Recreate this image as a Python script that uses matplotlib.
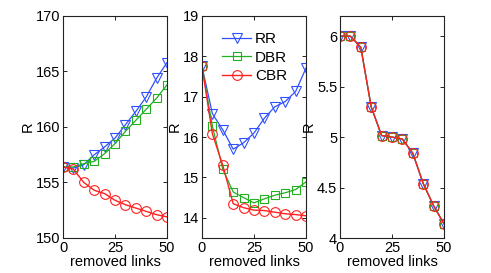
import matplotlib
matplotlib.use("Agg")
import matplotlib.pyplot as plt

plt.rcParams['font.family'] = ['Liberation Sans', 'DejaVu Sans']

x = [0, 5, 10, 15, 20, 25, 30, 35, 40, 45, 50]

# Panel 1
p1_rr = [156.4, 156.3, 156.6, 157.5, 158.2, 159.0, 160.2, 161.4, 162.7, 164.4, 165.8]
p1_dbr = [156.4, 156.4, 156.7, 156.9, 157.6, 158.5, 159.6, 160.6, 161.6, 162.6, 163.8]
p1_cbr = [156.4, 156.2, 155.0, 154.3, 154.0, 153.4, 153.0, 152.7, 152.4, 152.1, 151.9]

# Panel 2
p2_rr = [17.75, 16.58, 16.18, 15.7, 15.86, 16.1, 16.47, 16.75, 16.88, 17.13, 17.71]
p2_dbr = [17.75, 16.27, 15.2, 14.64, 14.5, 14.37, 14.47, 14.56, 14.62, 14.7, 14.89]
p2_cbr = [17.75, 16.08, 15.3, 14.35, 14.25, 14.19, 14.18, 14.14, 14.1, 14.08, 14.05]

# Panel 3
p3_rr = [6.0, 6.0, 5.89, 5.30, 5.015, 5.0, 4.98, 4.84, 4.54, 4.32, 4.14]
p3_dbr = [6.0, 6.0, 5.89, 5.30, 5.015, 5.0, 4.98, 4.84, 4.54, 4.32, 4.14]
p3_cbr = [6.0, 6.0, 5.89, 5.30, 5.015, 5.0, 4.98, 4.84, 4.54, 4.32, 4.14]

labels = ['RR', 'DBR', 'CBR']
colors = ['#3050ff', '#20b020', '#ff2020']
markers = ['v', 's', 'o']

xticks = [0, 25, 50]
yticks1 = [150, 155, 160, 165, 170]
yticks2 = [14, 15, 16, 17, 18, 19]
yticks3 = [4, 4.5, 5, 5.5, 6]
ytl3 = ['4', '4.5', '5', '5.5', '6']

fig = plt.figure(figsize=(4.91, 2.73), dpi=100)
lefts = [63/491, 202/491, 340/491]
width = 104/491
bottom = 1 - 238/273
height = (238 - 16)/273

panels = [
    ([p1_rr, p1_dbr, p1_cbr], (150, 170), yticks1, [str(v) for v in yticks1]),
    ([p2_rr, p2_dbr, p2_cbr], (13.5, 19), yticks2, [str(v) for v in yticks2]),
    ([p3_rr, p3_dbr, p3_cbr], (4, 6.2), yticks3, ytl3),
]

fs = 10.5
for i, (series, ylim, yt, ytl) in enumerate(panels):
    ax = fig.add_axes([lefts[i], bottom, width, height])
    for s, lab, c, m in zip(series, labels, colors, markers):
        ms = 7.5 if m == 'v' else (6 if m == 's' else 7)
        ax.plot(x, s, color=c, marker=m, markersize=ms, markerfacecolor='none',
                markeredgecolor=c, markeredgewidth=0.8,
                linewidth=0.9 if c != '#ff2020' else 1.0, label=lab)
    ax.set_xlim(0, 50)
    ax.set_ylim(*ylim)
    ax.set_xticks(xticks)
    ax.set_yticks(yt)
    ax.set_yticklabels(ytl)
    ax.tick_params(direction='in', top=True, right=True, labelsize=fs,
                   length=3, width=0.6, pad=2)
    for sp in ax.spines.values():
        sp.set_linewidth(0.8)
        sp.set_color('#222222')
    ax.set_xlabel('removed links', fontsize=fs, labelpad=0)
    ax.set_ylabel('R', fontsize=fs, labelpad=1)
    if i == 1:
        ax.legend(loc='upper left', frameon=False, fontsize=fs + 0.5,
                  handlelength=1.9, handletextpad=0.25, labelspacing=0.3,
                  borderaxespad=0.0, bbox_to_anchor=(0.135, 0.955))

fig.savefig('out.png', dpi=100)
